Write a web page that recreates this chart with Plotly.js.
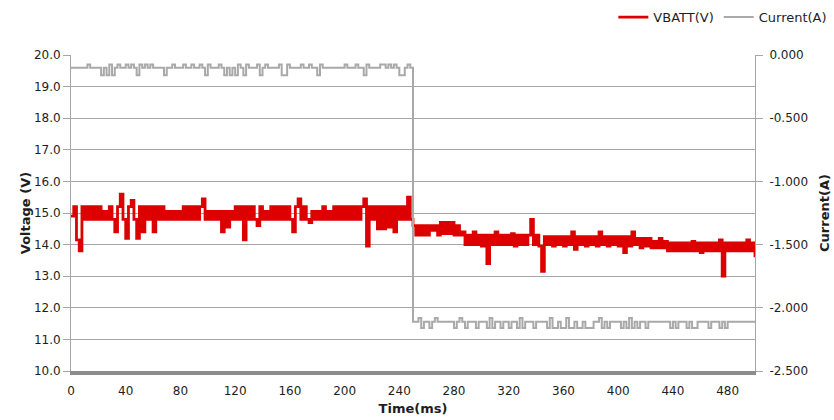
<!DOCTYPE html>
<html>
<head>
<meta charset="utf-8">
<script src="https://cdn.plot.ly/plotly-3.0.1.min.js"></script>
<style>html,body{margin:0;padding:0;background:#fff;}#chart{width:834px;height:420px;}</style>
</head>
<body>
<div id="chart"></div>
<script>
// Sampling: one value every 2 ms starting at 0 ms
var timeStart = 0;
var timeStep = 2;

// VBATT (V), 0..500 ms
var vbatt = [
  14.9, 15.2, 14.15, 13.8, 15.2, 14.8, 15.2, 14.8, 15.2, 14.8,
  15.2, 14.8, 15.05, 14.8, 15.2, 14.8, 14.4, 15.2, 15.6, 14.8,
  14.2, 15.2, 15.4, 14.8, 14.2, 15.2, 14.4, 15.2, 14.8, 15.2,
  14.4, 15.2, 14.8, 15.2, 14.8, 15.05, 14.8, 15.05, 14.8, 15.05,
  14.8, 15.2, 14.8, 15.2, 14.8, 15.2, 14.8, 15.2, 15.45, 14.8,
  15.05, 14.8, 15.05, 14.8, 15.05, 14.4, 15.05, 14.55, 15.05, 14.8,
  15.2, 14.8, 15.2, 14.15, 15.2, 14.8, 15.2, 14.8, 14.6, 15.2,
  14.8, 15.05, 14.8, 15.2, 14.8, 15.2, 14.8, 15.2, 14.8, 15.2,
  14.8, 14.4, 15.2, 15.45, 14.8, 15.2, 14.8, 14.7, 15.05, 14.8,
  15.05, 14.8, 15.2, 14.8, 15.05, 14.8, 15.2, 14.8, 15.2, 14.8,
  15.2, 14.8, 15.2, 14.8, 15.2, 14.8, 15.2, 15.45, 13.95, 15.2,
  14.8, 15.2, 14.5, 15.2, 14.5, 15.2, 14.55, 15.2, 14.4, 15.2,
  14.8, 15.2, 14.8, 15.5, 14.8,
  14.6, 14.3, 14.6, 14.3, 14.6, 14.3, 14.6, 14.45, 14.6, 14.3,
  14.7, 14.35, 14.7, 14.35, 14.7, 14.3, 14.6, 14.3, 14.4, 14.0,
  14.3, 14.0, 14.4, 14.0, 14.3, 13.95, 14.3, 13.4, 14.3, 14.0,
  14.4, 14.0, 14.3, 14.0, 14.3, 14.0, 14.35, 13.95, 14.3, 14.0,
  14.3, 14.0, 14.3, 14.8, 14.0, 14.3, 13.95, 13.15, 14.25, 14.0,
  14.25, 13.95, 14.25, 14.0, 14.25, 13.95, 14.25, 14.0, 14.4, 13.85,
  14.25, 14.0, 14.25, 13.95, 14.25, 14.0, 14.25, 13.95, 14.4, 14.0,
  14.25, 13.95, 14.25, 14.0, 14.25, 13.95, 14.25, 13.75, 14.25, 13.95,
  14.4, 14.0, 14.2, 13.9, 14.2, 13.95, 14.2, 13.9, 14.1, 13.9,
  14.2, 13.9, 14.1, 13.8, 14.05, 13.8, 14.05, 13.8, 14.05, 13.8,
  14.05, 13.8, 14.1, 13.8, 14.05, 13.75, 14.05, 13.8, 14.05, 13.8,
  14.05, 13.8, 14.15, 13.0, 14.05, 13.8, 14.05, 13.8, 14.05, 13.8,
  14.05, 13.8, 14.15, 13.8, 14.05, 13.6
];

// Current (A), 0..500 ms
var current = [
  -0.1, -0.1, -0.1, -0.1, -0.1, -0.1, -0.075, -0.1, -0.1, -0.1,
  -0.1, -0.16, -0.1, -0.16, -0.075, -0.16, -0.1, -0.075, -0.1, -0.1,
  -0.075, -0.1, -0.075, -0.1, -0.16, -0.075, -0.1, -0.075, -0.1, -0.075,
  -0.1, -0.1, -0.1, -0.1, -0.16, -0.1, -0.1, -0.075, -0.1, -0.1,
  -0.1, -0.075, -0.1, -0.1, -0.075, -0.1, -0.1, -0.075, -0.1, -0.16,
  -0.075, -0.1, -0.1, -0.1, -0.075, -0.1, -0.16, -0.1, -0.16, -0.1,
  -0.16, -0.075, -0.1, -0.16, -0.075, -0.1, -0.1, -0.1, -0.075, -0.16,
  -0.1, -0.075, -0.1, -0.1, -0.1, -0.1, -0.075, -0.16, -0.16, -0.075,
  -0.1, -0.1, -0.1, -0.1, -0.075, -0.1, -0.1, -0.075, -0.1, -0.1,
  -0.16, -0.075, -0.1, -0.1, -0.1, -0.1, -0.1, -0.1, -0.1, -0.1,
  -0.075, -0.1, -0.1, -0.1, -0.075, -0.1, -0.1, -0.16, -0.075, -0.1,
  -0.1, -0.1, -0.1, -0.075, -0.075, -0.1, -0.075, -0.1, -0.075, -0.1,
  -0.16, -0.16, -0.1, -0.075, -0.1,
  -2.11, -2.11, -2.08, -2.16, -2.11, -2.11, -2.16, -2.11, -2.08, -2.11,
  -2.11, -2.11, -2.11, -2.11, -2.11, -2.16, -2.11, -2.08, -2.11, -2.16,
  -2.11, -2.11, -2.11, -2.16, -2.11, -2.11, -2.11, -2.16, -2.08, -2.16,
  -2.11, -2.11, -2.16, -2.11, -2.11, -2.16, -2.11, -2.11, -2.16, -2.08,
  -2.16, -2.11, -2.11, -2.11, -2.16, -2.11, -2.11, -2.11, -2.11, -2.16,
  -2.08, -2.16, -2.16, -2.11, -2.16, -2.16, -2.08, -2.16, -2.16, -2.11,
  -2.16, -2.16, -2.11, -2.16, -2.16, -2.16, -2.11, -2.11, -2.08, -2.16,
  -2.11, -2.16, -2.11, -2.11, -2.11, -2.11, -2.16, -2.11, -2.16, -2.08,
  -2.16, -2.11, -2.16, -2.11, -2.11, -2.16, -2.11, -2.11, -2.11, -2.11,
  -2.11, -2.11, -2.11, -2.11, -2.16, -2.11, -2.16, -2.11, -2.11, -2.11,
  -2.16, -2.11, -2.16, -2.16, -2.11, -2.11, -2.11, -2.11, -2.16, -2.11,
  -2.11, -2.11, -2.16, -2.11, -2.16, -2.11, -2.11, -2.11, -2.11, -2.11,
  -2.11, -2.11, -2.11, -2.11, -2.11, -2.11
];

// Axis tick labels
var voltTicks = [10, 11, 12, 13, 14, 15, 16, 17, 18, 19, 20];
var voltTickText = ['10.0', '11.0', '12.0', '13.0', '14.0', '15.0', '16.0', '17.0', '18.0', '19.0', '20.0'];
var currTicks = [-2.5, -2.0, -1.5, -1.0, -0.5, 0];
var currTickText = ['-2.500', '-2.000', '-1.500', '-1.000', '-0.500', '0.000'];
var timeTicks = [0, 40, 80, 120, 160, 200, 240, 280, 320, 360, 400, 440, 480];

var FONT = 'DejaVu Sans, Verdana, sans-serif';

var traces = [
  {
    name: 'VBATT(V)', type: 'scatter', mode: 'lines',
    x0: timeStart, dx: timeStep, y: vbatt,
    line: {color: '#dd0000', width: 2.8, shape: 'hv'},
    yaxis: 'y'
  },
  {
    name: 'Current(A)', type: 'scatter', mode: 'lines',
    x0: timeStart, dx: timeStep, y: current,
    line: {color: '#a9a9a9', width: 2, shape: 'hv'},
    yaxis: 'y2'
  }
];

var layout = {
  width: 834, height: 420,
  margin: {l: 71, r: 79, t: 55, b: 49, pad: 0, autoexpand: false},
  paper_bgcolor: '#ffffff', plot_bgcolor: '#ffffff',
  font: {family: FONT, size: 12, color: '#1e1e1e'},
  showlegend: true,
  legend: {
    orientation: 'h', xref: 'container', yref: 'container',
    x: 0.998, xanchor: 'right', y: 0.995, yanchor: 'top',
    font: {family: FONT, size: 13, color: '#1e1e1e'},
    itemwidth: 30, bgcolor: 'rgba(0,0,0,0)'
  },
  xaxis: {
    range: [0, 500], tickmode: 'array', tickvals: timeTicks, automargin: false,
    showgrid: false, zeroline: false,
    showline: true, linecolor: '#8c8c8c', linewidth: 4,
    ticks: '', ticklabelstandoff: 6,
    tickfont: {family: FONT, size: 12, color: '#1e1e1e'},
    title: {text: 'Time(ms)', font: {family: FONT, size: 13, weight: 'bold', color: '#1e1e1e'}, standoff: 7}
  },
  yaxis: {
    range: [10, 20], tickmode: 'array', tickvals: voltTicks, ticktext: voltTickText, automargin: false,
    showgrid: true, gridcolor: '#a6a6a6', gridwidth: 1, zeroline: false,
    showline: true, linecolor: '#a6a6a6', linewidth: 1,
    ticks: 'outside', ticklen: 7, tickcolor: '#a6a6a6',
    tickfont: {family: FONT, size: 12, color: '#1e1e1e'},
    title: {text: 'Voltage (V)', font: {family: FONT, size: 13, weight: 'bold', color: '#1e1e1e'}, standoff: 0}
  },
  yaxis2: {
    overlaying: 'y', side: 'right', automargin: false,
    range: [-2.5, 0], tickmode: 'array', tickvals: currTicks, ticktext: currTickText,
    showgrid: false, zeroline: false,
    showline: true, linecolor: '#a6a6a6', linewidth: 1,
    ticks: 'outside', ticklen: 7, tickcolor: '#a6a6a6', ticklabelstandoff: 4,
    tickfont: {family: FONT, size: 12, color: '#1e1e1e'},
    title: {text: 'Current(A)', font: {family: FONT, size: 13, weight: 'bold', color: '#1e1e1e'}, standoff: 12}
  }
};

Plotly.newPlot('chart', traces, layout, {displayModeBar: false, staticPlot: true});
</script>
</body>
</html>
